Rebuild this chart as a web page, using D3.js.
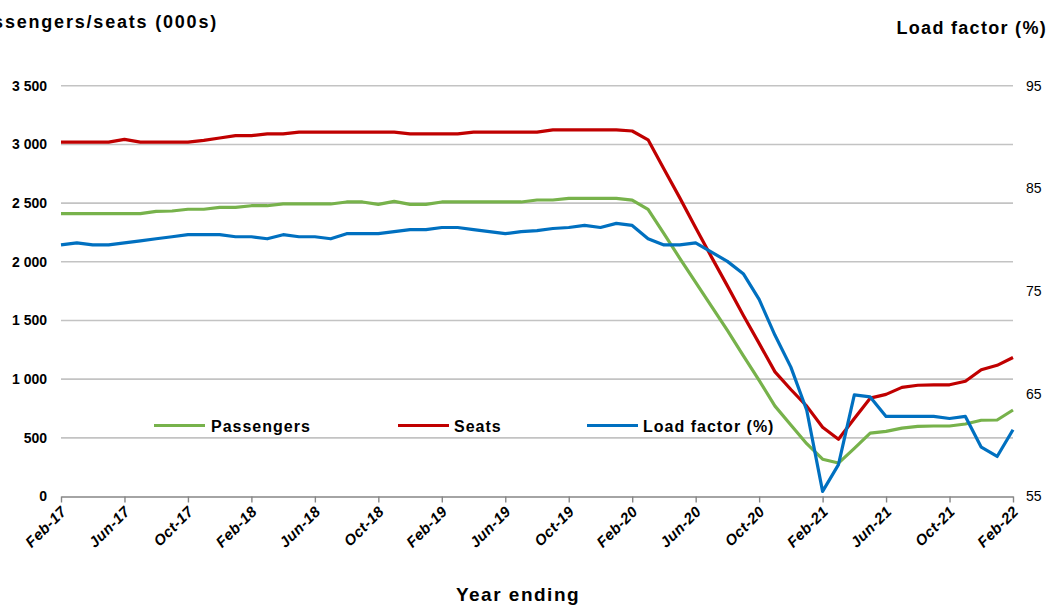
<!DOCTYPE html>
<html><head><meta charset="utf-8">
<script src="https://cdn.jsdelivr.net/npm/d3@7"></script>
<style>
html,body{margin:0;padding:0;background:#fff;}
svg{display:block;font-family:"Liberation Sans",Arial,sans-serif;}
</style></head>
<body><svg id="c" width="1052" height="605"></svg>
<script>
const months = ["Feb-17","Mar-17","Apr-17","May-17","Jun-17","Jul-17","Aug-17","Sep-17","Oct-17","Nov-17","Dec-17","Jan-18",
"Feb-18","Mar-18","Apr-18","May-18","Jun-18","Jul-18","Aug-18","Sep-18","Oct-18","Nov-18","Dec-18","Jan-19",
"Feb-19","Mar-19","Apr-19","May-19","Jun-19","Jul-19","Aug-19","Sep-19","Oct-19","Nov-19","Dec-19","Jan-20",
"Feb-20","Mar-20","Apr-20","May-20","Jun-20","Jul-20","Aug-20","Sep-20","Oct-20","Nov-20","Dec-20","Jan-21",
"Feb-21","Mar-21","Apr-21","May-21","Jun-21","Jul-21","Aug-21","Sep-21","Oct-21","Nov-21","Dec-21","Jan-22","Feb-22"];
const tickLabels = ["Feb-17","Jun-17","Oct-17","Feb-18","Jun-18","Oct-18","Feb-19","Jun-19","Oct-19","Feb-20","Jun-20","Oct-20","Feb-21","Jun-21","Oct-21","Feb-22"];
const passengers = [2410,2410,2410,2410,2410,2410,2430,2433,2448,2448,2464,2464,
2478,2478,2493,2493,2493,2493,2510,2510,2490,2515,2490,2490,
2510,2510,2510,2510,2510,2510,2527,2527,2541,2541,2541,2541,
2526,2446,2240,2030,1825,1620,1415,1200,990,770,610,450,
318,285,410,540,555,583,597,601,601,618,650,652,737];
const seats = [3020,3020,3020,3020,3044,3020,3020,3020,3020,3035,3055,3075,
3075,3090,3090,3105,3105,3105,3105,3105,3105,3105,3090,3090,
3090,3090,3105,3105,3105,3105,3105,3125,3125,3125,3125,3125,
3115,3040,2790,2545,2290,2040,1795,1545,1305,1062,912,770,
590,488,665,838,870,930,948,952,952,982,1080,1118,1185];
const loadFactor = [79.5,79.7,79.5,79.5,79.7,79.9,80.1,80.3,80.5,80.5,80.5,80.3,
80.3,80.1,80.5,80.3,80.3,80.1,80.6,80.6,80.6,80.8,81.0,81.0,
81.2,81.2,81.0,80.8,80.6,80.8,80.9,81.1,81.2,81.4,81.2,81.6,
81.4,80.1,79.5,79.5,79.7,78.8,77.9,76.7,74.2,70.7,67.6,63.4,
55.5,58.1,64.9,64.7,62.8,62.8,62.8,62.8,62.6,62.8,59.8,58.9,61.5];
const leftTicks = [0,500,1000,1500,2000,2500,3000,3500];
const rightTicks = [55,65,75,85,95];
const seriesNames = ["Passengers","Seats","Load factor (%)"];
const colors = ["#77b24b","#c00000","#0070c0"];

const svg = d3.select("#c");
const x = d3.scalePoint().domain(months).range([61,1013]);
const yL = d3.scaleLinear().domain([0,3500]).range([496.5,85.8]);
const yR = d3.scaleLinear().domain([55,95]).range([496.5,85.8]);
const FF = "Liberation Sans, Arial, sans-serif";

// gridlines
svg.append("g").selectAll("line").data(leftTicks.filter(d=>d>0)).join("line")
  .attr("x1",61).attr("x2",1013).attr("y1",d=>yL(d)).attr("y2",d=>yL(d))
  .attr("stroke","#c3c3c3").attr("stroke-width",1.6);

// left axis labels
const gl = svg.append("g").attr("transform","translate(47,0)")
  .call(d3.axisLeft(yL).tickValues(leftTicks).tickSize(0).tickPadding(0)
    .tickFormat(d=>d3.format(",")(d).replace(/,/g," ")));
gl.select(".domain").remove();
gl.selectAll("text").attr("font-size",14).attr("font-weight","bold").attr("fill","#000")
  .attr("font-family",FF);

// right axis labels
const gr = svg.append("g").attr("transform","translate(1026,0)")
  .call(d3.axisRight(yR).tickValues(rightTicks).tickSize(0).tickPadding(0));
gr.select(".domain").remove();
gr.selectAll("text").attr("font-size",14).attr("fill","#000").attr("font-family",FF);

// bottom axis
const gb = svg.append("g").attr("transform","translate(0,496.5)")
  .call(d3.axisBottom(x).tickValues(tickLabels).tickSize(6).tickSizeOuter(0));
gb.select(".domain").attr("stroke","#868686").attr("stroke-width",1.6);
gb.selectAll(".tick line").attr("stroke","#868686").attr("stroke-width",1.4);
gb.selectAll("text").attr("font-size",15).attr("font-weight","bold").attr("font-style","italic")
  .attr("fill","#000").attr("font-family",FF).attr("letter-spacing",0.4)
  .attr("text-anchor","end").attr("dy",null).attr("y",0)
  .attr("transform","translate(6,16) rotate(-45)");

// lines
const mk = (sc) => d3.line().x((d,i)=>x(months[i])).y(d=>sc(d));
const data = [[passengers,yL],[seats,yL],[loadFactor,yR]];
data.forEach(([vals,sc],k)=>{
  svg.append("path").datum(vals).attr("d",mk(sc)).attr("fill","none")
    .attr("stroke",colors[k]).attr("stroke-width",3.2).attr("stroke-linejoin","round");
});

// legend
const leg = [[154,211],[398,454],[587,643]];
leg.forEach(([lx,tx],k)=>{
  svg.append("line").attr("x1",lx).attr("x2",lx+51).attr("y1",425.5).attr("y2",425.5)
    .attr("stroke",colors[k]).attr("stroke-width",3.2);
  svg.append("text").attr("x",tx).attr("y",431.5).text(seriesNames[k])
    .attr("font-size",16).attr("font-weight","bold").attr("letter-spacing",1);
});

// titles (left title is clipped at the left edge in the original)
svg.append("text").attr("x",218).attr("y",28).attr("text-anchor","end")
  .attr("font-size",18).attr("font-weight","bold").attr("letter-spacing",1.8).text("Passengers/seats (000s)");
svg.append("text").attr("x",1047).attr("y",34).attr("text-anchor","end")
  .attr("font-size",18).attr("font-weight","bold").attr("letter-spacing",1.3).text("Load factor (%)");
svg.append("text").attr("x",518).attr("y",601).attr("text-anchor","middle")
  .attr("font-size",19).attr("font-weight","bold").attr("letter-spacing",1.5).text("Year ending");
</script></body></html>
